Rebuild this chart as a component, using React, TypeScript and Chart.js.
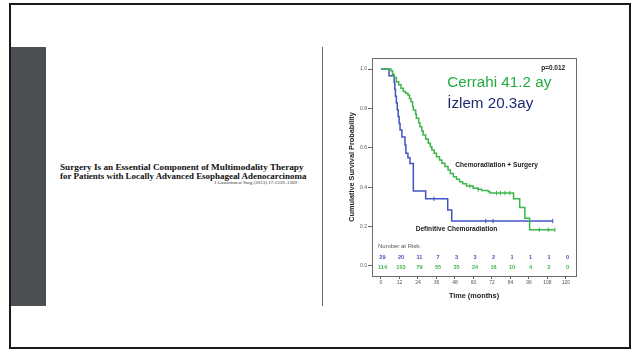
import React, { useEffect, useRef } from "react";
import { Chart, registerables } from "chart.js";
Chart.register(...registerables);

// ---- data ----
const xTicks = [0, 12, 24, 36, 48, 60, 72, 84, 96, 108, 120];
const yTicks = [0, 0.2, 0.4, 0.6, 0.8, 1.0];
const riskCRT = [29, 20, 11, 7, 3, 3, 2, 1, 1, 1, 0];
const riskSurg = [114, 103, 79, 55, 35, 24, 16, 10, 4, 2, 0];

const crtTimes = [0, 5.2, 8.6, 9.0, 9.4, 10.0, 10.6, 11.2, 11.8, 12.4, 13.6, 15.6, 16.2, 17.5, 18.8, 21.0, 29.0, 43.3, 45.9, 111.4];
const crtSurv = [1.0, 0.966, 0.931, 0.897, 0.862, 0.828, 0.793, 0.759, 0.724, 0.69, 0.655, 0.614, 0.572, 0.55, 0.52, 0.38, 0.341, 0.284, 0.228, 0.228];
const crtCensor = [34.4, 68.0, 72.7, 111.4];

const surgTimes = [0, 6.5, 7.5, 8.5, 10, 11.5, 13, 14.5, 16, 17.5, 18.5, 19.5, 20.5, 21, 22.5, 23, 24.5, 25.3, 26.5, 27.4, 29, 30.7, 32, 33, 34.5, 36, 38, 39.5, 41.5, 43.5, 45, 47, 49, 51, 53, 55.5, 59.8, 63, 65.3, 69.6, 70.7, 86, 90, 93.3, 96.4, 112.8];
const surgSurv = [1.0, 0.991, 0.974, 0.957, 0.936, 0.92, 0.902, 0.886, 0.877, 0.868, 0.85, 0.834, 0.81, 0.792, 0.77, 0.75, 0.727, 0.707, 0.685, 0.665, 0.645, 0.623, 0.605, 0.589, 0.572, 0.555, 0.538, 0.521, 0.505, 0.487, 0.47, 0.453, 0.44, 0.428, 0.418, 0.406, 0.394, 0.389, 0.383, 0.377, 0.37, 0.341, 0.297, 0.242, 0.184, 0.184];
const surgCensor = [57.7, 63.0, 75.0, 77.6, 80.4, 83.6, 102.7, 108.5, 112.8];

const BLUE = "#4155c2";
const GREEN = "#3cb64a";

const survAt = (times: number[], surv: number[], t: number) => {
  let v = surv[0];
  for (let i = 0; i < times.length; i++) if (times[i] <= t) v = surv[i];
  return v;
};

const pts = (times: number[], surv: number[]) => times.map((t, i) => ({ x: t, y: surv[i] }));
const censorPts = (c: number[], times: number[], surv: number[]) => c.map((t) => ({ x: t, y: survAt(times, surv, t) }));

const textPlugin = {
  id: "kmText",
  afterDraw(chart: any) {
    const { ctx, chartArea, scales } = chart;
    const xs = scales.x;
    const ys = scales.y;
    ctx.save();
    ctx.strokeStyle = "#6a6a6a";
    ctx.lineWidth = 1;
    ctx.strokeRect(Math.round(chartArea.left) + 0.5, Math.round(chartArea.top) + 0.5, chartArea.right - chartArea.left, chartArea.bottom - chartArea.top);

    const put = (txt: string, t: number, p: number, font: string, color: string, align: CanvasTextAlign, maxW?: number) => {
      ctx.font = font;
      ctx.fillStyle = color;
      ctx.textAlign = align;
      ctx.textBaseline = "middle";
      if (maxW) ctx.fillText(txt, xs.getPixelForValue(t), ys.getPixelForValue(p), maxW);
      else ctx.fillText(txt, xs.getPixelForValue(t), ys.getPixelForValue(p));
    };
    put("p=0.012", 119.5, 1.003, "bold 6.5px 'Liberation Sans'", "#222", "right");
    put("Cerrahi 41.2 ay", 43, 0.928, "15.5px 'Liberation Sans'", "#21ad3e", "left", 104);
    put("İzlem 20.3ay", 43, 0.826, "15.5px 'Liberation Sans'", "#1d2b72", "left", 86);
    put("Chemoradiation + Surgery", 75, 0.51, "bold 6.6px 'Liberation Sans'", "#222", "center");
    put("Definitive Chemoradiation", 49, 0.187, "bold 6.6px 'Liberation Sans'", "#222", "center");
    put("Number at Risk:", -1.9, 0.1, "6px 'Liberation Sans'", "#555", "left");
    xTicks.forEach((t, i) => {
      put(String(riskCRT[i]), t + 1, 0.042, "bold 5.6px 'Liberation Sans'", BLUE, "center");
      put(String(riskSurg[i]), t + 1, -0.007, "bold 5.6px 'Liberation Sans'", GREEN, "center");
    });
    ctx.restore();
  },
};

export default function App() {
  const ref = useRef<HTMLCanvasElement | null>(null);
  useEffect(() => {
    if (!ref.current) return;
    const chart = new Chart(ref.current, {
      type: "line",
      data: {
        datasets: [
          { data: pts(surgTimes, surgSurv), borderColor: GREEN, borderWidth: 1.5, stepped: "before", pointRadius: 0, fill: false },
          { data: pts(crtTimes, crtSurv), borderColor: BLUE, borderWidth: 1.5, stepped: "before", pointRadius: 0, fill: false },
          { data: censorPts(surgCensor, surgTimes, surgSurv), showLine: false, pointStyle: "line", rotation: 90, pointRadius: 2.2, borderColor: GREEN, borderWidth: 1 },
          { data: censorPts(crtCensor, crtTimes, crtSurv), showLine: false, pointStyle: "line", rotation: 90, pointRadius: 2.2, borderColor: BLUE, borderWidth: 1 },
        ],
      },
      options: {
        animation: false,
        responsive: false,
        layout: { padding: { left: 0, top: 18, right: 14, bottom: 0 } },
        plugins: { legend: { display: false }, tooltip: { enabled: false } },
        scales: {
          x: {
            type: "linear",
            min: -5.8,
            max: 126.5,
            afterBuildTicks: (s: any) => { s.ticks = xTicks.map((v) => ({ value: v })); },
            afterFit: (s: any) => { s.height = 34; },
            ticks: { color: "#555", font: { size: 5, family: "'Liberation Sans'", lineHeight: 1 }, padding: 1, maxRotation: 0, autoSkip: false, callback: (v: any) => String(v) },
            grid: { drawOnChartArea: false, drawTicks: true, tickLength: 3, color: "#666" },
            border: { display: false },
            title: { display: true, text: "Time (months)", color: "#222", font: { size: 7.3, weight: "bold", family: "'Liberation Sans'" }, padding: { top: 0, bottom: 10 } },
          },
          y: {
            type: "linear",
            min: -0.051,
            max: 1.056,
            afterBuildTicks: (s: any) => { s.ticks = yTicks.map((v) => ({ value: v })); },
            afterFit: (s: any) => { s.width = 42; },
            ticks: { color: "#555", font: { size: 5, family: "'Liberation Sans'" }, padding: 1, callback: (v: any) => Number(v).toFixed(1) },
            grid: { drawOnChartArea: false, drawTicks: true, tickLength: 4, color: "#666" },
            border: { display: false },
            title: { display: true, text: "Cumulative Survival Probability", color: "#222", font: { size: 7.3, weight: "bold", family: "'Liberation Sans'" }, padding: { top: 17.5, bottom: 0 } },
          },
        },
      },
      plugins: [textPlugin],
    } as any);
    return () => chart.destroy();
  }, []);

  return (
    <div style={{ position: "absolute", left: 0, top: 0, width: 635, height: 353, background: "#fff", overflow: "hidden" }}>
      <div style={{ position: "absolute", left: 9, top: 3, width: 622, height: 346, border: "2px solid #1b1b1b", boxSizing: "border-box" }} />
      <div style={{ position: "absolute", left: 11, top: 47, width: 35, height: 259, background: "#4b5054" }} />
      <div style={{ position: "absolute", left: 322, top: 47, width: 1, height: 259, background: "#666" }} />
      <div style={{ position: "absolute", left: 60, top: 162.5, whiteSpace: "nowrap", fontFamily: "'Liberation Serif'", fontWeight: "bold", fontSize: 9.2, lineHeight: "9px", color: "#111" }}>
        Surgery Is an Essential Component of Multimodality Therapy
      </div>
      <div style={{ position: "absolute", left: 60, top: 171.5, whiteSpace: "nowrap", fontFamily: "'Liberation Serif'", fontWeight: "bold", fontSize: 8.95, lineHeight: "9px", color: "#111" }}>
        for Patients with Locally Advanced Esophageal Adenocarcinoma
      </div>
      <div style={{ position: "absolute", right: 635 - 297, top: 180, whiteSpace: "nowrap", fontFamily: "'Liberation Serif'", fontSize: 5, lineHeight: "6px", color: "#333" }}>
        J Gastrointest Surg (2013) 17:1359–1369
      </div>
      <canvas ref={ref} width={260} height={270} style={{ position: "absolute", left: 330, top: 40, width: 260, height: 270 }} />
    </div>
  );
}
